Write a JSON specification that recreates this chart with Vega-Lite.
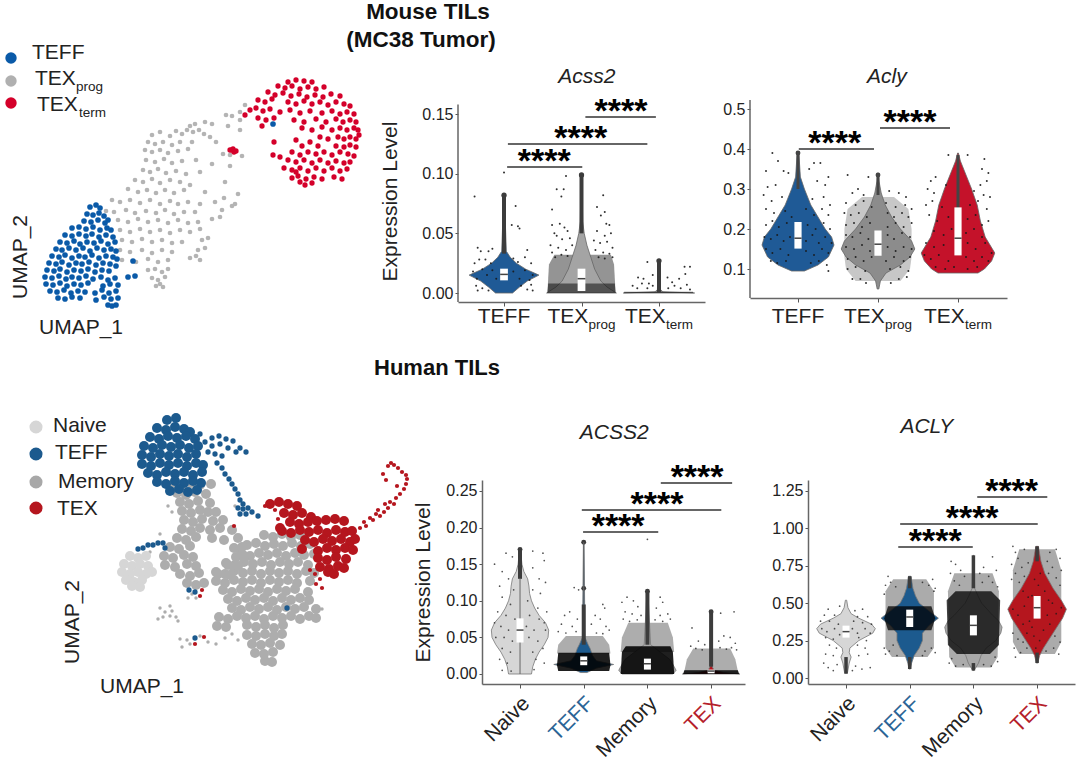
{"$schema":"https://vega.github.io/schema/vega-lite/v6.json","autosize":{"type":"none"},"padding":{"left":0,"top":100,"right":1080,"bottom":662},"background":"white","config":{"font":"Liberation Sans","view":{"stroke":null},"text":{"color":"#222"},"axis":{"grid":false,"tickColor":"#555","domainColor":"#666","domainWidth":1.5,"tickSize":3,"labelColor":"#222","labelFontSize":16,"labelPadding":2,"titleFontSize":21,"titleFontWeight":"normal","titleColor":"#222"}},"spacing":380,"bounds":"flush","resolve":{"scale":{"color":"independent"}},"vconcat":[{"spacing":45,"bounds":"flush","resolve":{"scale":{"color":"independent"}},"hconcat":[
{"width":413,"height":202,"encoding":{"x":{"field":"u","type":"quantitative","scale":{"domain":[0,413]},"axis":null},"y":{"field":"v","type":"quantitative","scale":{"domain":[0,202]},"axis":null}},"layer":[
{"data":{"values":[{"u":245,"v":197},{"u":240,"v":190},{"u":232,"v":186},{"u":226,"v":187},{"u":240,"v":182},{"u":228,"v":176},{"u":240,"v":172},{"u":212,"v":178},{"u":205,"v":180},{"u":190,"v":176},{"u":195,"v":178},{"u":199,"v":172},{"u":193,"v":170},{"u":187,"v":172},{"u":182,"v":168},{"u":176,"v":171},{"u":170,"v":166},{"u":160,"v":170},{"u":152,"v":167},{"u":204,"v":168},{"u":210,"v":165},{"u":216,"v":160},{"u":148,"v":160},{"u":155,"v":158},{"u":163,"v":160},{"u":172,"v":157},{"u":180,"v":160},{"u":192,"v":160},{"u":145,"v":152},{"u":152,"v":150},{"u":160,"v":152},{"u":168,"v":149},{"u":178,"v":151},{"u":188,"v":153},{"u":230,"v":147},{"u":242,"v":146},{"u":223,"v":148},{"u":146,"v":142},{"u":155,"v":140},{"u":164,"v":143},{"u":172,"v":139},{"u":182,"v":141},{"u":196,"v":142},{"u":212,"v":138},{"u":143,"v":132},{"u":150,"v":130},{"u":158,"v":133},{"u":166,"v":129},{"u":176,"v":131},{"u":186,"v":128},{"u":200,"v":130},{"u":230,"v":136},{"u":135,"v":122},{"u":143,"v":120},{"u":152,"v":123},{"u":160,"v":119},{"u":170,"v":122},{"u":180,"v":120},{"u":190,"v":117},{"u":225,"v":120},{"u":128,"v":113},{"u":138,"v":110},{"u":147,"v":112},{"u":156,"v":109},{"u":165,"v":112},{"u":174,"v":109},{"u":184,"v":112},{"u":205,"v":110},{"u":224,"v":104},{"u":238,"v":108},{"u":112,"v":102},{"u":120,"v":100},{"u":130,"v":102},{"u":140,"v":99},{"u":150,"v":102},{"u":160,"v":98},{"u":170,"v":101},{"u":178,"v":98},{"u":188,"v":100},{"u":200,"v":98},{"u":215,"v":100},{"u":232,"v":96},{"u":106,"v":91},{"u":114,"v":90},{"u":126,"v":92},{"u":135,"v":89},{"u":146,"v":91},{"u":156,"v":89},{"u":165,"v":92},{"u":174,"v":88},{"u":184,"v":90},{"u":195,"v":90},{"u":222,"v":92},{"u":235,"v":98},{"u":118,"v":82},{"u":128,"v":80},{"u":138,"v":83},{"u":148,"v":80},{"u":158,"v":82},{"u":168,"v":79},{"u":178,"v":82},{"u":188,"v":79},{"u":198,"v":80},{"u":212,"v":83},{"u":220,"v":85},{"u":120,"v":72},{"u":130,"v":70},{"u":140,"v":73},{"u":150,"v":70},{"u":160,"v":72},{"u":170,"v":69},{"u":180,"v":72},{"u":190,"v":70},{"u":200,"v":73},{"u":122,"v":62},{"u":132,"v":60},{"u":142,"v":63},{"u":152,"v":60},{"u":162,"v":62},{"u":172,"v":59},{"u":182,"v":60},{"u":202,"v":62},{"u":208,"v":64},{"u":120,"v":52},{"u":130,"v":50},{"u":142,"v":52},{"u":152,"v":49},{"u":162,"v":52},{"u":172,"v":50},{"u":198,"v":52},{"u":205,"v":54},{"u":122,"v":42},{"u":136,"v":40},{"u":148,"v":43},{"u":158,"v":40},{"u":168,"v":42},{"u":190,"v":44},{"u":196,"v":46},{"u":200,"v":42},{"u":148,"v":32},{"u":155,"v":33},{"u":162,"v":30},{"u":168,"v":33},{"u":152,"v":24},{"u":158,"v":22},{"u":165,"v":25},{"u":156,"v":16},{"u":160,"v":18},{"u":163,"v":15}]},"mark":{"type":"point","filled":true,"size":22,"opacity":1,"color":"#b4b4b4"},"encoding":{}},
{"data":{"values":[{"u":90,"v":95},{"u":96,"v":97},{"u":100,"v":94},{"u":87,"v":88},{"u":93,"v":87},{"u":99,"v":89},{"u":104,"v":86},{"u":84,"v":81},{"u":91,"v":80},{"u":98,"v":82},{"u":105,"v":79},{"u":108,"v":82},{"u":72,"v":74},{"u":79,"v":75},{"u":86,"v":73},{"u":93,"v":75},{"u":100,"v":72},{"u":107,"v":74},{"u":111,"v":72},{"u":65,"v":67},{"u":72,"v":66},{"u":79,"v":68},{"u":86,"v":66},{"u":92,"v":68},{"u":99,"v":65},{"u":106,"v":67},{"u":113,"v":65},{"u":60,"v":60},{"u":67,"v":59},{"u":74,"v":61},{"u":80,"v":58},{"u":87,"v":60},{"u":94,"v":59},{"u":101,"v":61},{"u":108,"v":58},{"u":115,"v":60},{"u":56,"v":53},{"u":62,"v":52},{"u":69,"v":54},{"u":76,"v":52},{"u":83,"v":54},{"u":90,"v":51},{"u":97,"v":54},{"u":104,"v":52},{"u":111,"v":53},{"u":116,"v":51},{"u":52,"v":46},{"u":59,"v":45},{"u":65,"v":47},{"u":72,"v":44},{"u":79,"v":46},{"u":85,"v":45},{"u":92,"v":47},{"u":99,"v":44},{"u":106,"v":46},{"u":113,"v":45},{"u":117,"v":43},{"u":49,"v":39},{"u":56,"v":38},{"u":62,"v":40},{"u":69,"v":37},{"u":76,"v":39},{"u":82,"v":38},{"u":89,"v":40},{"u":96,"v":37},{"u":103,"v":39},{"u":110,"v":38},{"u":116,"v":36},{"u":47,"v":32},{"u":54,"v":31},{"u":60,"v":33},{"u":67,"v":30},{"u":74,"v":32},{"u":81,"v":31},{"u":88,"v":33},{"u":95,"v":30},{"u":102,"v":32},{"u":109,"v":31},{"u":45,"v":25},{"u":52,"v":24},{"u":59,"v":26},{"u":66,"v":23},{"u":72,"v":25},{"u":79,"v":24},{"u":86,"v":26},{"u":93,"v":23},{"u":101,"v":25},{"u":108,"v":22},{"u":115,"v":24},{"u":46,"v":18},{"u":53,"v":17},{"u":60,"v":19},{"u":67,"v":16},{"u":74,"v":18},{"u":81,"v":17},{"u":88,"v":19},{"u":103,"v":16},{"u":110,"v":18},{"u":118,"v":17},{"u":50,"v":11},{"u":57,"v":10},{"u":64,"v":12},{"u":71,"v":9},{"u":78,"v":11},{"u":85,"v":10},{"u":95,"v":9},{"u":102,"v":12},{"u":109,"v":9},{"u":116,"v":11},{"u":58,"v":4},{"u":65,"v":3},{"u":72,"v":5},{"u":80,"v":4},{"u":96,"v":2},{"u":104,"v":5},{"u":111,"v":3},{"u":118,"v":4},{"u":108,"v":-3},{"u":112,"v":-4},{"u":116,"v":-3},{"u":128,"v":25},{"u":135,"v":26},{"u":133,"v":41},{"u":273,"v":178}]},"mark":{"type":"point","filled":true,"size":32,"opacity":1,"color":"#0a5aa8"},"encoding":{}},
{"data":{"values":[{"u":288,"v":220},{"u":296,"v":222},{"u":304,"v":221},{"u":312,"v":220},{"u":278,"v":216},{"u":285,"v":214},{"u":292,"v":216},{"u":300,"v":213},{"u":308,"v":215},{"u":316,"v":213},{"u":324,"v":215},{"u":268,"v":210},{"u":275,"v":207},{"u":283,"v":209},{"u":291,"v":206},{"u":299,"v":208},{"u":307,"v":205},{"u":315,"v":207},{"u":323,"v":205},{"u":331,"v":208},{"u":340,"v":206},{"u":258,"v":202},{"u":265,"v":200},{"u":272,"v":203},{"u":288,"v":200},{"u":296,"v":198},{"u":304,"v":201},{"u":312,"v":198},{"u":320,"v":200},{"u":328,"v":197},{"u":336,"v":200},{"u":344,"v":198},{"u":350,"v":196},{"u":250,"v":192},{"u":256,"v":194},{"u":263,"v":191},{"u":270,"v":193},{"u":280,"v":190},{"u":290,"v":192},{"u":300,"v":189},{"u":310,"v":191},{"u":322,"v":189},{"u":332,"v":191},{"u":340,"v":188},{"u":347,"v":190},{"u":354,"v":188},{"u":245,"v":187},{"u":258,"v":184},{"u":266,"v":182},{"u":274,"v":184},{"u":294,"v":182},{"u":304,"v":180},{"u":316,"v":183},{"u":326,"v":180},{"u":336,"v":183},{"u":343,"v":180},{"u":350,"v":182},{"u":356,"v":180},{"u":262,"v":176},{"u":302,"v":174},{"u":312,"v":172},{"u":322,"v":175},{"u":332,"v":172},{"u":340,"v":174},{"u":347,"v":172},{"u":354,"v":174},{"u":358,"v":172},{"u":320,"v":165},{"u":328,"v":163},{"u":338,"v":165},{"u":344,"v":163},{"u":350,"v":165},{"u":356,"v":163},{"u":359,"v":167},{"u":274,"v":160},{"u":296,"v":162},{"u":302,"v":156},{"u":310,"v":160},{"u":318,"v":156},{"u":336,"v":156},{"u":344,"v":155},{"u":350,"v":157},{"u":356,"v":155},{"u":292,"v":150},{"u":300,"v":147},{"u":308,"v":150},{"u":316,"v":148},{"u":324,"v":150},{"u":332,"v":147},{"u":340,"v":150},{"u":348,"v":148},{"u":354,"v":146},{"u":273,"v":147},{"u":280,"v":145},{"u":288,"v":142},{"u":296,"v":140},{"u":304,"v":142},{"u":312,"v":139},{"u":320,"v":142},{"u":328,"v":139},{"u":336,"v":141},{"u":344,"v":139},{"u":350,"v":140},{"u":284,"v":134},{"u":292,"v":132},{"u":300,"v":134},{"u":308,"v":131},{"u":316,"v":134},{"u":324,"v":131},{"u":332,"v":134},{"u":340,"v":131},{"u":347,"v":133},{"u":292,"v":124},{"u":298,"v":126},{"u":306,"v":123},{"u":314,"v":125},{"u":322,"v":123},{"u":334,"v":125},{"u":342,"v":123},{"u":296,"v":130},{"u":300,"v":120},{"u":305,"v":117},{"u":312,"v":119},{"u":232,"v":152},{"u":234,"v":150},{"u":230,"v":152},{"u":236,"v":151},{"u":233,"v":153}]},"mark":{"type":"point","filled":true,"size":28,"opacity":1,"color":"#d4002a"},"encoding":{}},
{"data":{"values":[{"u":11,"v":244,"c":"TEFF"},{"u":11,"v":221,"c":"TEXprog"},{"u":11,"v":199,"c":"TEXterm"}]},"mark":{"type":"point","filled":true,"size":130,"opacity":1},"encoding":{"color":{"field":"c","type":"nominal","scale":{"domain":["TEFF","TEXprog","TEXterm"],"range":["#0a5aa8","#b0b0b0","#d4002a"]},"legend":null}}},
{"data":{"values":[{"u":32,"v":249,"t":"TEFF"},{"u":35,"v":223,"t":"TEX"},{"u":37,"v":197,"t":"TEX"},{"u":39,"v":-26,"t":"UMAP_1"}]},"mark":{"type":"text","align":"left","baseline":"middle","fontSize":21},"encoding":{"text":{"field":"t"}}},
{"data":{"values":[{"u":76,"v":215,"t":"prog"},{"u":79,"v":189,"t":"term"}]},"mark":{"type":"text","align":"left","baseline":"middle","fontSize":13.5},"encoding":{"text":{"field":"t"}}},
{"data":{"values":[{"u":21,"v":45,"t":"UMAP_2"}]},"mark":{"type":"text","angle":270,"align":"center","baseline":"middle","fontSize":21},"encoding":{"text":{"field":"t"}}},
{"data":{"values":[{"u":428,"v":290,"t":"Mouse TILs"},{"u":421,"v":262,"t":"(MC38 Tumor)"}]},"mark":{"type":"text","align":"center","baseline":"middle","fontSize":22.5,"fontWeight":"bold","color":"#111"},"encoding":{"text":{"field":"t"}}}
]},
{"width":247,"height":202,"encoding":{"x":{"field":"x","type":"quantitative","scale":{"domain":[0.406,3.594]},"axis":{"values":[1,2,3],"labels":false,"title":" ","tickSize":4}},"y":{"field":"y","type":"quantitative","scale":{"domain":[-0.00754,0.1618]},"axis":{"values":[0,0.05,0.1,0.15],"format":".2f","domain":false,"title":"Expression Level","titlePadding":21}}},"layer":[
{"data":{"values":[{"g":"a","y":0,"x":1.56,"x2":2.44},{"g":"a","y":0.012,"x":1.57,"x2":2.43},{"g":"a","y":0.024,"x":1.58,"x2":2.42},{"g":"a","y":0.032,"x":1.65,"x2":2.38}]},"mark":{"type":"area","orient":"horizontal","color":"#000","opacity":0.42},"encoding":{"x2":{"field":"x2"},"detail":{"field":"g"}}},
{"data":{"values":[{"g":"TEFF","y":0,"x":0.89,"x2":1.11},{"g":"TEFF","y":0.005,"x":0.8,"x2":1.2},{"g":"TEFF","y":0.01,"x":0.7,"x2":1.3},{"g":"TEFF","y":0.015,"x":0.55,"x2":1.45},{"g":"TEFF","y":0.02,"x":0.72,"x2":1.28},{"g":"TEFF","y":0.025,"x":0.84,"x2":1.16},{"g":"TEFF","y":0.03,"x":0.92,"x2":1.08},{"g":"TEFF","y":0.035,"x":0.97,"x2":1.03},{"g":"TEFF","y":0.08,"x":0.995,"x2":1.005},{"g":"TEXprog","y":0,"x":1.55,"x2":2.45},{"g":"TEXprog","y":0.005,"x":1.67,"x2":2.33},{"g":"TEXprog","y":0.01,"x":1.75,"x2":2.25},{"g":"TEXprog","y":0.02,"x":1.83,"x2":2.17},{"g":"TEXprog","y":0.03,"x":1.88,"x2":2.12},{"g":"TEXprog","y":0.04,"x":1.93,"x2":2.07},{"g":"TEXprog","y":0.05,"x":1.965,"x2":2.035},{"g":"TEXprog","y":0.06,"x":1.985,"x2":2.015},{"g":"TEXprog","y":0.1,"x":1.995,"x2":2.005},{"g":"TEXterm","y":0,"x":2.54,"x2":3.46},{"g":"TEXterm","y":0.001,"x":2.95,"x2":3.05},{"g":"TEXterm","y":0.003,"x":2.98,"x2":3.02},{"g":"TEXterm","y":0.027,"x":2.988,"x2":3.012}]},"mark":{"type":"area","orient":"horizontal","stroke":"#666","strokeWidth":0.8},"encoding":{"x2":{"field":"x2"},"color":{"field":"g","type":"nominal","scale":{"domain":["TEFF","TEXprog","TEXterm"],"range":["#1f5a96","#a4a4a4","#8a8a8a"]},"legend":null}}},
{"data":{"values":[{"g":"a","y":0,"x":1.56,"x2":2.44},{"g":"a","y":0.008,"x":1.57,"x2":2.43},{"g":"b","y":0,"x":2.55,"x2":3.44},{"g":"b","y":0.001,"x":2.55,"x2":3.44}]},"mark":{"type":"area","orient":"horizontal","color":"#000","opacity":0.5},"encoding":{"x2":{"field":"x2"},"detail":{"field":"g"}}},
{"data":{"values":[{"x":0.62,"y":0.081},{"x":1.0,"y":0.101},{"x":1.15,"y":0.073},{"x":1.18,"y":0.056},{"x":1.1,"y":0.057},{"x":1.2,"y":0.054},{"x":0.66,"y":0.038},{"x":0.7,"y":0.035},{"x":0.8,"y":0.035},{"x":0.85,"y":0.037},{"x":1.3,"y":0.036},{"x":1.27,"y":0.03},{"x":0.62,"y":0.025},{"x":0.68,"y":0.028},{"x":0.76,"y":0.028},{"x":0.83,"y":0.025},{"x":1.12,"y":0.029},{"x":1.18,"y":0.026},{"x":1.35,"y":0.025},{"x":1.37,"y":0.015},{"x":0.6,"y":0.018},{"x":0.65,"y":0.012},{"x":0.72,"y":0.02},{"x":0.78,"y":0.015},{"x":0.85,"y":0.019},{"x":0.9,"y":0.012},{"x":1.12,"y":0.018},{"x":1.2,"y":0.012},{"x":1.27,"y":0.019},{"x":1.33,"y":0.011},{"x":0.64,"y":0.006},{"x":0.66,"y":0.002},{"x":0.72,"y":0.004},{"x":0.8,"y":0.002},{"x":1.22,"y":0.006},{"x":1.3,"y":0.003},{"x":1.37,"y":0.002},{"x":1.35,"y":0.007},{"x":1.65,"y":0.05},{"x":1.8,"y":0.098},{"x":1.68,"y":0.087},{"x":1.77,"y":0.087},{"x":1.74,"y":0.081},{"x":2.28,"y":0.082},{"x":1.62,"y":0.07},{"x":2.2,"y":0.072},{"x":2.25,"y":0.065},{"x":2.3,"y":0.068},{"x":2.32,"y":0.058},{"x":2.36,"y":0.057},{"x":1.62,"y":0.057},{"x":1.72,"y":0.058},{"x":1.78,"y":0.055},{"x":1.82,"y":0.052},{"x":2.2,"y":0.052},{"x":2.3,"y":0.048},{"x":2.38,"y":0.05},{"x":1.68,"y":0.048},{"x":1.75,"y":0.045},{"x":1.85,"y":0.046},{"x":2.16,"y":0.044},{"x":2.24,"y":0.042},{"x":2.33,"y":0.043},{"x":2.4,"y":0.038},{"x":1.6,"y":0.04},{"x":1.7,"y":0.038},{"x":1.8,"y":0.036},{"x":1.88,"y":0.04},{"x":2.18,"y":0.036},{"x":2.28,"y":0.034},{"x":2.36,"y":0.033},{"x":1.62,"y":0.034},{"x":1.66,"y":0.03},{"x":1.74,"y":0.032},{"x":1.82,"y":0.031},{"x":2.22,"y":0.03},{"x":2.3,"y":0.029},{"x":2.4,"y":0.03},{"x":2.85,"y":0.026},{"x":3.33,"y":0.022},{"x":3.4,"y":0.022},{"x":2.73,"y":0.013},{"x":2.8,"y":0.012},{"x":2.87,"y":0.008},{"x":2.92,"y":0.015},{"x":3.11,"y":0.013},{"x":3.17,"y":0.009},{"x":3.26,"y":0.012},{"x":3.34,"y":0.016},{"x":2.66,"y":0.006},{"x":2.72,"y":0.004},{"x":2.78,"y":0.008},{"x":2.85,"y":0.004},{"x":2.92,"y":0.006},{"x":3.12,"y":0.004},{"x":3.2,"y":0.006},{"x":3.28,"y":0.004},{"x":3.36,"y":0.007},{"x":3.4,"y":0.003}]},"mark":{"type":"point","filled":true,"size":4,"opacity":0.9,"color":"#1a1a1a"},"encoding":{}},
{"data":{"values":[{"x":1,"y":0.033,"y2":0.082},{"x":2,"y":0.05,"y2":0.099},{"x":3,"y":0,"y2":0.027}]},"mark":{"type":"rule","strokeWidth":4,"color":"#3c3c3c"},"encoding":{"y2":{"field":"y2"}}},
{"data":{"values":[{"x":1,"y":0.082},{"x":2,"y":0.099},{"x":3,"y":0.027}]},"mark":{"type":"point","filled":true,"size":28,"opacity":1,"color":"#3c3c3c"},"encoding":{}},
{"data":{"values":[{"x":0.95,"x2":1.05,"y":0.0106,"y2":0.0204},{"x":1.95,"x2":2.05,"y":0.0017,"y2":0.0204}]},"mark":{"type":"rect","color":"white"},"encoding":{"x2":{"field":"x2"},"y2":{"field":"y2"}}},
{"data":{"values":[{"x":0.95,"x2":1.05,"y":0.0156},{"x":1.95,"x2":2.05,"y":0.012}]},"mark":{"type":"rule","strokeWidth":1.5,"color":"#444"},"encoding":{"x2":{"field":"x2"}}},
{"data":{"values":[{"x":0.406,"y":-0.00754,"y2":0.158}]},"mark":{"type":"rule","strokeWidth":1.5,"color":"#666"},"encoding":{"y2":{"field":"y2"}}},
{"data":{"values":[{"x":1.04,"x2":2.01,"y":0.1056},{"x":1.05,"x2":2.85,"y":0.125},{"x":2.05,"x2":2.96,"y":0.1475}]},"mark":{"type":"rule","strokeWidth":1.5,"color":"#333"},"encoding":{"x2":{"field":"x2"}}},
{"data":{"values":[{"x":1.52,"y":0.1056,"t":"****"},{"x":1.99,"y":0.125,"t":"****"},{"x":2.51,"y":0.1475,"t":"****"}]},"mark":{"type":"text","fontSize":34,"fontWeight":"bold","dy":5,"baseline":"alphabetic","color":"#000"},"encoding":{"text":{"field":"t"}}},
{"data":{"values":[{"x":2.07,"y":0.181,"t":"Acss2"}]},"mark":{"type":"text","fontSize":21,"fontStyle":"italic"},"encoding":{"text":{"field":"t"}}},
{"data":{"values":[{"x":1,"y":-0.0201,"t":"TEFF"}]},"mark":{"type":"text","fontSize":21},"encoding":{"text":{"field":"t"}}},
{"data":{"values":[{"x":2,"y":-0.0201,"t":"TEX"},{"x":3,"y":-0.0201,"t":"TEX"}]},"mark":{"type":"text","fontSize":21,"align":"left","dx":-34},"encoding":{"text":{"field":"t"}}},
{"data":{"values":[{"x":2,"y":-0.0201,"t":"prog"},{"x":3,"y":-0.0201,"t":"term"}]},"mark":{"type":"text","fontSize":13.5,"align":"left","dx":7,"dy":8},"encoding":{"text":{"field":"t"}}}
]},
{"width":257,"height":202,"encoding":{"x":{"field":"x","type":"quantitative","scale":{"domain":[0.4,3.6125]},"axis":{"values":[1,2,3],"labels":false,"title":" ","tickSize":4,"offset":-4}},"y":{"field":"y","type":"quantitative","scale":{"domain":[0.0175,0.5225]},"axis":{"values":[0.1,0.2,0.3,0.4,0.5],"format":".1f","domain":false,"title":" "}}},"layer":[
{"data":{"values":[{"g":"a","y":0.07,"x":1.72,"x2":2.28},{"g":"a","y":0.1,"x":1.6,"x2":2.4},{"g":"a","y":0.13,"x":1.58,"x2":2.42},{"g":"a","y":0.2,"x":1.58,"x2":2.42},{"g":"a","y":0.25,"x":1.62,"x2":2.38},{"g":"a","y":0.28,"x":1.8,"x2":2.2}]},"mark":{"type":"area","orient":"horizontal","color":"#000","opacity":0.22},"encoding":{"x2":{"field":"x2"},"detail":{"field":"g"}}},
{"data":{"values":[{"g":"TEFF","y":0.095,"x":0.92,"x2":1.08},{"g":"TEFF","y":0.11,"x":0.75,"x2":1.25},{"g":"TEFF","y":0.13,"x":0.62,"x2":1.38},{"g":"TEFF","y":0.16,"x":0.55,"x2":1.45},{"g":"TEFF","y":0.18,"x":0.58,"x2":1.42},{"g":"TEFF","y":0.2,"x":0.66,"x2":1.34},{"g":"TEFF","y":0.23,"x":0.75,"x2":1.25},{"g":"TEFF","y":0.26,"x":0.84,"x2":1.16},{"g":"TEFF","y":0.3,"x":0.92,"x2":1.08},{"g":"TEFF","y":0.33,"x":0.97,"x2":1.03},{"g":"TEFF","y":0.39,"x":0.99,"x2":1.01},{"g":"TEXprog","y":0.05,"x":1.99,"x2":2.01},{"g":"TEXprog","y":0.07,"x":1.97,"x2":2.03},{"g":"TEXprog","y":0.09,"x":1.9,"x2":2.1},{"g":"TEXprog","y":0.11,"x":1.72,"x2":2.28},{"g":"TEXprog","y":0.13,"x":1.6,"x2":2.4},{"g":"TEXprog","y":0.15,"x":1.54,"x2":2.46},{"g":"TEXprog","y":0.17,"x":1.58,"x2":2.42},{"g":"TEXprog","y":0.2,"x":1.72,"x2":2.28},{"g":"TEXprog","y":0.23,"x":1.83,"x2":2.17},{"g":"TEXprog","y":0.26,"x":1.91,"x2":2.09},{"g":"TEXprog","y":0.29,"x":1.96,"x2":2.04},{"g":"TEXprog","y":0.32,"x":1.988,"x2":2.012},{"g":"TEXprog","y":0.34,"x":1.995,"x2":2.005},{"g":"TEXterm","y":0.09,"x":2.75,"x2":3.25},{"g":"TEXterm","y":0.1,"x":2.67,"x2":3.33},{"g":"TEXterm","y":0.12,"x":2.58,"x2":3.42},{"g":"TEXterm","y":0.14,"x":2.54,"x2":3.46},{"g":"TEXterm","y":0.16,"x":2.6,"x2":3.4},{"g":"TEXterm","y":0.18,"x":2.66,"x2":3.34},{"g":"TEXterm","y":0.22,"x":2.72,"x2":3.28},{"g":"TEXterm","y":0.26,"x":2.76,"x2":3.24},{"g":"TEXterm","y":0.3,"x":2.83,"x2":3.17},{"g":"TEXterm","y":0.34,"x":2.91,"x2":3.09},{"g":"TEXterm","y":0.37,"x":2.97,"x2":3.03},{"g":"TEXterm","y":0.39,"x":2.995,"x2":3.005}]},"mark":{"type":"area","orient":"horizontal","stroke":"#666","strokeWidth":0.8},"encoding":{"x2":{"field":"x2"},"color":{"field":"g","type":"nominal","scale":{"domain":["TEFF","TEXprog","TEXterm"],"range":["#1f5a96","#8c8c8c","#c4122a"]},"legend":null}}},
{"data":{"values":[{"x":0.68,"y":0.39},{"x":0.75,"y":0.37},{"x":1.2,"y":0.365},{"x":1.28,"y":0.365},{"x":0.6,"y":0.345},{"x":0.88,"y":0.34},{"x":0.82,"y":0.345},{"x":1.14,"y":0.35},{"x":1.38,"y":0.33},{"x":1.24,"y":0.32},{"x":0.62,"y":0.305},{"x":0.72,"y":0.31},{"x":1.34,"y":0.31},{"x":0.57,"y":0.285},{"x":0.67,"y":0.27},{"x":0.8,"y":0.28},{"x":1.18,"y":0.275},{"x":1.32,"y":0.28},{"x":1.4,"y":0.26},{"x":0.6,"y":0.25},{"x":0.7,"y":0.24},{"x":0.84,"y":0.245},{"x":0.92,"y":0.23},{"x":1.1,"y":0.25},{"x":1.2,"y":0.235},{"x":1.3,"y":0.25},{"x":1.38,"y":0.235},{"x":0.6,"y":0.21},{"x":0.68,"y":0.22},{"x":0.76,"y":0.205},{"x":0.86,"y":0.215},{"x":1.12,"y":0.21},{"x":1.22,"y":0.2},{"x":1.32,"y":0.215},{"x":1.4,"y":0.2},{"x":0.58,"y":0.18},{"x":0.66,"y":0.175},{"x":0.74,"y":0.185},{"x":0.82,"y":0.17},{"x":0.9,"y":0.18},{"x":1.1,"y":0.17},{"x":1.18,"y":0.185},{"x":1.26,"y":0.165},{"x":1.34,"y":0.18},{"x":1.42,"y":0.165},{"x":0.6,"y":0.15},{"x":0.68,"y":0.14},{"x":0.78,"y":0.15},{"x":0.88,"y":0.135},{"x":1.1,"y":0.145},{"x":1.2,"y":0.135},{"x":1.3,"y":0.15},{"x":1.38,"y":0.14},{"x":0.66,"y":0.12},{"x":0.74,"y":0.115},{"x":0.85,"y":0.12},{"x":1.16,"y":0.115},{"x":1.26,"y":0.12},{"x":1.36,"y":0.11},{"x":1.38,"y":0.095},{"x":1.62,"y":0.335},{"x":1.88,"y":0.33},{"x":1.75,"y":0.3},{"x":1.68,"y":0.29},{"x":1.82,"y":0.285},{"x":2.14,"y":0.295},{"x":2.26,"y":0.29},{"x":2.35,"y":0.28},{"x":1.6,"y":0.265},{"x":1.72,"y":0.26},{"x":1.82,"y":0.27},{"x":1.92,"y":0.255},{"x":2.1,"y":0.265},{"x":2.22,"y":0.255},{"x":2.34,"y":0.26},{"x":2.42,"y":0.25},{"x":1.58,"y":0.24},{"x":1.66,"y":0.235},{"x":1.76,"y":0.24},{"x":1.86,"y":0.23},{"x":2.12,"y":0.24},{"x":2.2,"y":0.23},{"x":2.3,"y":0.24},{"x":2.38,"y":0.23},{"x":1.6,"y":0.21},{"x":1.7,"y":0.215},{"x":1.8,"y":0.205},{"x":1.9,"y":0.215},{"x":2.12,"y":0.205},{"x":2.22,"y":0.215},{"x":2.32,"y":0.205},{"x":2.42,"y":0.215},{"x":1.6,"y":0.185},{"x":1.68,"y":0.18},{"x":1.78,"y":0.19},{"x":1.88,"y":0.175},{"x":2.12,"y":0.185},{"x":2.2,"y":0.175},{"x":2.3,"y":0.19},{"x":2.4,"y":0.18},{"x":1.6,"y":0.155},{"x":1.7,"y":0.15},{"x":1.8,"y":0.16},{"x":1.9,"y":0.145},{"x":2.12,"y":0.155},{"x":2.22,"y":0.145},{"x":2.32,"y":0.155},{"x":2.42,"y":0.15},{"x":1.62,"y":0.125},{"x":1.72,"y":0.13},{"x":1.82,"y":0.12},{"x":1.92,"y":0.13},{"x":2.1,"y":0.12},{"x":2.2,"y":0.13},{"x":2.32,"y":0.12},{"x":2.4,"y":0.13},{"x":1.62,"y":0.1},{"x":1.72,"y":0.105},{"x":1.84,"y":0.095},{"x":2.15,"y":0.1},{"x":2.28,"y":0.105},{"x":2.38,"y":0.095},{"x":1.68,"y":0.075},{"x":1.78,"y":0.075},{"x":1.85,"y":0.065},{"x":2.16,"y":0.065},{"x":2.26,"y":0.075},{"x":2.36,"y":0.08},{"x":3.12,"y":0.385},{"x":2.88,"y":0.385},{"x":3.33,"y":0.375},{"x":3.3,"y":0.35},{"x":3.38,"y":0.34},{"x":2.72,"y":0.33},{"x":2.66,"y":0.32},{"x":3.28,"y":0.31},{"x":3.36,"y":0.32},{"x":2.62,"y":0.3},{"x":2.7,"y":0.29},{"x":2.85,"y":0.31},{"x":3.2,"y":0.295},{"x":3.32,"y":0.285},{"x":3.4,"y":0.28},{"x":2.6,"y":0.26},{"x":2.68,"y":0.27},{"x":2.8,"y":0.255},{"x":3.15,"y":0.26},{"x":3.25,"y":0.27},{"x":3.36,"y":0.25},{"x":2.64,"y":0.235},{"x":2.74,"y":0.22},{"x":2.88,"y":0.23},{"x":3.12,"y":0.225},{"x":3.22,"y":0.235},{"x":3.3,"y":0.21},{"x":3.38,"y":0.22},{"x":2.7,"y":0.195},{"x":2.82,"y":0.185},{"x":2.92,"y":0.2},{"x":3.1,"y":0.19},{"x":3.2,"y":0.2},{"x":3.3,"y":0.18},{"x":2.6,"y":0.165},{"x":2.7,"y":0.155},{"x":2.82,"y":0.16},{"x":3.12,"y":0.165},{"x":3.22,"y":0.15},{"x":3.34,"y":0.165},{"x":3.42,"y":0.14},{"x":2.58,"y":0.135},{"x":2.66,"y":0.125},{"x":2.76,"y":0.135},{"x":2.88,"y":0.12},{"x":3.1,"y":0.13},{"x":3.2,"y":0.12},{"x":3.3,"y":0.13},{"x":3.38,"y":0.12},{"x":2.72,"y":0.105},{"x":2.84,"y":0.1},{"x":2.95,"y":0.105},{"x":3.12,"y":0.1},{"x":3.24,"y":0.105}]},"mark":{"type":"point","filled":true,"size":4,"opacity":0.9,"color":"#1a1a1a"},"encoding":{}},
{"data":{"values":[{"x":1,"y":0.3,"y2":0.39},{"x":2,"y":0.285,"y2":0.335},{"x":3,"y":0.25,"y2":0.385}]},"mark":{"type":"rule","strokeWidth":3,"color":"#444"},"encoding":{"y2":{"field":"y2"}}},
{"data":{"values":[{"x":1,"y":0.39},{"x":2,"y":0.335}]},"mark":{"type":"point","filled":true,"size":24,"opacity":1,"color":"#444"},"encoding":{}},
{"data":{"values":[{"x":0.955,"x2":1.045,"y":0.151,"y2":0.2175},{"x":1.955,"x2":2.045,"y":0.133,"y2":0.196},{"x":2.955,"x2":3.045,"y":0.134,"y2":0.254}]},"mark":{"type":"rect","color":"white"},"encoding":{"x2":{"field":"x2"},"y2":{"field":"y2"}}},
{"data":{"values":[{"x":0.955,"x2":1.045,"y":0.177},{"x":1.955,"x2":2.045,"y":0.162},{"x":2.955,"x2":3.045,"y":0.177}]},"mark":{"type":"rule","strokeWidth":1.5,"color":"#444"},"encoding":{"x2":{"field":"x2"}}},
{"data":{"values":[{"x":0.4,"y":0.0275,"y2":0.5225}]},"mark":{"type":"rule","strokeWidth":1.5,"color":"#666"},"encoding":{"y2":{"field":"y2"}}},
{"data":{"values":[{"x":1.01,"x2":1.95,"y":0.4},{"x":2.025,"x2":2.9,"y":0.4525}]},"mark":{"type":"rule","strokeWidth":1.5,"color":"#333"},"encoding":{"x2":{"field":"x2"}}},
{"data":{"values":[{"x":1.46,"y":0.4,"t":"****"},{"x":2.4,"y":0.4525,"t":"****"}]},"mark":{"type":"text","fontSize":34,"fontWeight":"bold","dy":5,"baseline":"alphabetic","color":"#000"},"encoding":{"text":{"field":"t"}}},
{"data":{"values":[{"x":2.11,"y":0.58,"t":"Acly"}]},"mark":{"type":"text","fontSize":21,"fontStyle":"italic"},"encoding":{"text":{"field":"t"}}},
{"data":{"values":[{"x":1,"y":-0.02,"t":"TEFF"}]},"mark":{"type":"text","fontSize":21},"encoding":{"text":{"field":"t"}}},
{"data":{"values":[{"x":2,"y":-0.02,"t":"TEX"},{"x":3,"y":-0.02,"t":"TEX"}]},"mark":{"type":"text","fontSize":21,"align":"left","dx":-34},"encoding":{"text":{"field":"t"}}},
{"data":{"values":[{"x":2,"y":-0.02,"t":"prog"},{"x":3,"y":-0.02,"t":"term"}]},"mark":{"type":"text","fontSize":13.5,"align":"left","dx":7,"dy":8},"encoding":{"text":{"field":"t"}}}
]}
]},{"spacing":63,"bounds":"flush","resolve":{"scale":{"color":"independent"}},"hconcat":[
{"width":419,"height":204,"encoding":{"x":{"field":"u","type":"quantitative","scale":{"domain":[0,419]},"axis":null},"y":{"field":"v","type":"quantitative","scale":{"domain":[0,204]},"axis":null}},"layer":[
{"data":{"values":[{"u":264,"v":149},{"u":273,"v":147},{"u":282,"v":150},{"u":291,"v":147},{"u":300,"v":149},{"u":247,"v":139},{"u":256,"v":141},{"u":265,"v":138},{"u":274,"v":140},{"u":283,"v":138},{"u":292,"v":141},{"u":301,"v":138},{"u":310,"v":140},{"u":241,"v":130},{"u":250,"v":128},{"u":259,"v":131},{"u":268,"v":129},{"u":277,"v":131},{"u":286,"v":128},{"u":295,"v":131},{"u":304,"v":129},{"u":314,"v":130},{"u":226,"v":121},{"u":235,"v":119},{"u":244,"v":122},{"u":253,"v":120},{"u":262,"v":122},{"u":271,"v":119},{"u":280,"v":122},{"u":289,"v":120},{"u":298,"v":122},{"u":308,"v":119},{"u":216,"v":112},{"u":225,"v":110},{"u":234,"v":113},{"u":243,"v":111},{"u":252,"v":113},{"u":261,"v":110},{"u":270,"v":113},{"u":279,"v":111},{"u":288,"v":113},{"u":297,"v":110},{"u":306,"v":113},{"u":314,"v":111},{"u":216,"v":103},{"u":225,"v":101},{"u":234,"v":104},{"u":243,"v":102},{"u":252,"v":104},{"u":261,"v":101},{"u":270,"v":104},{"u":279,"v":102},{"u":288,"v":104},{"u":297,"v":101},{"u":310,"v":103},{"u":223,"v":94},{"u":232,"v":92},{"u":241,"v":95},{"u":250,"v":93},{"u":259,"v":95},{"u":268,"v":92},{"u":277,"v":95},{"u":286,"v":93},{"u":295,"v":95},{"u":308,"v":92},{"u":228,"v":85},{"u":237,"v":83},{"u":246,"v":86},{"u":255,"v":84},{"u":264,"v":86},{"u":273,"v":83},{"u":282,"v":86},{"u":291,"v":84},{"u":300,"v":86},{"u":309,"v":84},{"u":232,"v":76},{"u":241,"v":74},{"u":250,"v":77},{"u":259,"v":75},{"u":268,"v":77},{"u":277,"v":74},{"u":286,"v":77},{"u":295,"v":75},{"u":304,"v":77},{"u":316,"v":75},{"u":219,"v":67},{"u":228,"v":65},{"u":237,"v":68},{"u":246,"v":66},{"u":255,"v":68},{"u":264,"v":65},{"u":273,"v":68},{"u":282,"v":66},{"u":291,"v":68},{"u":300,"v":65},{"u":309,"v":68},{"u":316,"v":66},{"u":217,"v":58},{"u":226,"v":57},{"u":247,"v":59},{"u":256,"v":57},{"u":265,"v":59},{"u":274,"v":56},{"u":283,"v":59},{"u":247,"v":49},{"u":256,"v":48},{"u":265,"v":50},{"u":274,"v":48},{"u":282,"v":50},{"u":252,"v":40},{"u":261,"v":39},{"u":270,"v":41},{"u":280,"v":39},{"u":255,"v":31},{"u":264,"v":30},{"u":273,"v":32},{"u":265,"v":23},{"u":272,"v":22},{"u":173,"v":200},{"u":182,"v":198},{"u":191,"v":201},{"u":200,"v":199},{"u":211,"v":200},{"u":177,"v":191},{"u":186,"v":189},{"u":195,"v":192},{"u":206,"v":190},{"u":180,"v":182},{"u":189,"v":180},{"u":198,"v":183},{"u":210,"v":181},{"u":182,"v":173},{"u":191,"v":171},{"u":200,"v":174},{"u":208,"v":172},{"u":216,"v":172},{"u":184,"v":164},{"u":193,"v":162},{"u":202,"v":165},{"u":213,"v":163},{"u":223,"v":164},{"u":182,"v":155},{"u":191,"v":153},{"u":200,"v":156},{"u":210,"v":154},{"u":220,"v":156},{"u":232,"v":154},{"u":177,"v":146},{"u":186,"v":144},{"u":196,"v":147},{"u":212,"v":146},{"u":224,"v":144},{"u":238,"v":146},{"u":170,"v":137},{"u":179,"v":135},{"u":190,"v":138},{"u":234,"v":136},{"u":242,"v":137},{"u":164,"v":128},{"u":173,"v":126},{"u":184,"v":129},{"u":193,"v":127},{"u":236,"v":127},{"u":243,"v":129},{"u":165,"v":119},{"u":175,"v":117},{"u":187,"v":120},{"u":196,"v":118},{"u":228,"v":119},{"u":238,"v":118},{"u":180,"v":110},{"u":190,"v":108},{"u":199,"v":111},{"u":218,"v":110},{"u":230,"v":109},{"u":187,"v":101},{"u":196,"v":99},{"u":204,"v":101}]},"mark":{"type":"point","filled":true,"size":100,"opacity":1,"color":"#adadad"},"encoding":{}},
{"data":{"values":[{"u":160,"v":76},{"u":165,"v":72},{"u":170,"v":78},{"u":172,"v":73},{"u":176,"v":67},{"u":170,"v":68},{"u":163,"v":67},{"u":158,"v":65},{"u":178,"v":63},{"u":180,"v":45},{"u":187,"v":44},{"u":190,"v":40},{"u":182,"v":37},{"u":200,"v":48},{"u":208,"v":42},{"u":216,"v":40},{"u":225,"v":46},{"u":232,"v":50},{"u":238,"v":44},{"u":186,"v":102},{"u":192,"v":90},{"u":196,"v":86},{"u":188,"v":86},{"u":322,"v":75},{"u":318,"v":68},{"u":235,"v":178},{"u":240,"v":170},{"u":168,"v":178},{"u":172,"v":172},{"u":160,"v":150},{"u":150,"v":132}]},"mark":{"type":"point","filled":true,"size":12,"opacity":1,"color":"#adadad"},"encoding":{}},
{"data":{"values":[{"u":130,"v":128},{"u":138,"v":126},{"u":146,"v":128},{"u":124,"v":120},{"u":132,"v":118},{"u":140,"v":120},{"u":148,"v":118},{"u":122,"v":112},{"u":130,"v":110},{"u":138,"v":112},{"u":146,"v":110},{"u":152,"v":112},{"u":126,"v":104},{"u":134,"v":102},{"u":142,"v":104},{"u":132,"v":98},{"u":140,"v":97}]},"mark":{"type":"point","filled":true,"size":100,"opacity":1,"color":"#d6d6d6"},"encoding":{}},
{"data":{"values":[{"u":167,"v":264},{"u":176,"v":266},{"u":157,"v":256},{"u":166,"v":254},{"u":175,"v":257},{"u":184,"v":255},{"u":190,"v":252},{"u":150,"v":247},{"u":159,"v":245},{"u":168,"v":248},{"u":177,"v":246},{"u":186,"v":248},{"u":195,"v":245},{"u":144,"v":238},{"u":153,"v":236},{"u":162,"v":239},{"u":171,"v":237},{"u":180,"v":239},{"u":189,"v":236},{"u":198,"v":238},{"u":142,"v":229},{"u":151,"v":227},{"u":160,"v":230},{"u":169,"v":228},{"u":178,"v":230},{"u":187,"v":227},{"u":196,"v":230},{"u":142,"v":220},{"u":151,"v":218},{"u":160,"v":221},{"u":169,"v":219},{"u":178,"v":221},{"u":187,"v":218},{"u":196,"v":221},{"u":203,"v":219},{"u":148,"v":211},{"u":157,"v":209},{"u":166,"v":212},{"u":175,"v":210},{"u":184,"v":212},{"u":193,"v":209},{"u":202,"v":212},{"u":157,"v":202},{"u":166,"v":200},{"u":175,"v":203},{"u":184,"v":201},{"u":193,"v":203},{"u":201,"v":201},{"u":170,"v":193},{"u":179,"v":195},{"u":188,"v":192},{"u":197,"v":194}]},"mark":{"type":"point","filled":true,"size":100,"opacity":1,"color":"#1c5a8e"},"encoding":{}},
{"data":{"values":[{"u":212,"v":246},{"u":219,"v":248},{"u":226,"v":245},{"u":233,"v":243},{"u":240,"v":236},{"u":246,"v":232},{"u":212,"v":238},{"u":220,"v":240},{"u":228,"v":236},{"u":236,"v":232},{"u":208,"v":232},{"u":215,"v":230},{"u":222,"v":228},{"u":200,"v":250},{"u":205,"v":242},{"u":217,"v":221},{"u":222,"v":216},{"u":225,"v":210},{"u":229,"v":205},{"u":232,"v":200},{"u":235,"v":195},{"u":238,"v":190},{"u":240,"v":184},{"u":243,"v":180},{"u":238,"v":176},{"u":243,"v":175},{"u":248,"v":176},{"u":252,"v":172},{"u":258,"v":168},{"u":240,"v":170},{"u":246,"v":170},{"u":138,"v":135},{"u":143,"v":136},{"u":148,"v":139},{"u":153,"v":139},{"u":158,"v":141},{"u":163,"v":141},{"u":165,"v":136},{"u":189,"v":94},{"u":195,"v":92},{"u":195,"v":46},{"u":287,"v":76}]},"mark":{"type":"point","filled":true,"size":28,"opacity":1,"color":"#1c5a8e"},"encoding":{}},
{"data":{"values":[{"u":270,"v":180},{"u":279,"v":182},{"u":288,"v":180},{"u":297,"v":178},{"u":284,"v":171},{"u":293,"v":169},{"u":302,"v":171},{"u":311,"v":167},{"u":290,"v":162},{"u":299,"v":160},{"u":308,"v":162},{"u":317,"v":163},{"u":326,"v":164},{"u":335,"v":165},{"u":344,"v":163},{"u":282,"v":153},{"u":291,"v":151},{"u":300,"v":154},{"u":309,"v":152},{"u":318,"v":154},{"u":327,"v":151},{"u":336,"v":154},{"u":345,"v":152},{"u":352,"v":153},{"u":280,"v":156},{"u":305,"v":144},{"u":314,"v":142},{"u":323,"v":145},{"u":332,"v":143},{"u":341,"v":145},{"u":350,"v":142},{"u":355,"v":145},{"u":302,"v":135},{"u":318,"v":133},{"u":327,"v":136},{"u":336,"v":134},{"u":345,"v":136},{"u":353,"v":134},{"u":318,"v":126},{"u":327,"v":124},{"u":336,"v":127},{"u":346,"v":125},{"u":320,"v":117},{"u":329,"v":115},{"u":338,"v":118},{"u":344,"v":116},{"u":328,"v":112},{"u":334,"v":110}]},"mark":{"type":"point","filled":true,"size":100,"opacity":1,"color":"#b5161e"},"encoding":{}},
{"data":{"values":[{"u":265,"v":178},{"u":275,"v":174},{"u":278,"v":165},{"u":360,"v":156},{"u":364,"v":162},{"u":366,"v":158},{"u":370,"v":166},{"u":373,"v":164},{"u":376,"v":170},{"u":380,"v":168},{"u":378,"v":174},{"u":384,"v":172},{"u":388,"v":176},{"u":385,"v":180},{"u":390,"v":182},{"u":394,"v":180},{"u":396,"v":186},{"u":400,"v":190},{"u":404,"v":195},{"u":406,"v":200},{"u":407,"v":205},{"u":406,"v":209},{"u":402,"v":212},{"u":398,"v":216},{"u":394,"v":219},{"u":391,"v":221},{"u":388,"v":218},{"u":383,"v":210},{"u":386,"v":204},{"u":397,"v":198},{"u":315,"v":110},{"u":310,"v":114},{"u":320,"v":105},{"u":316,"v":100},{"u":322,"v":96},{"u":200,"v":88},{"u":202,"v":94},{"u":204,"v":47},{"u":195,"v":40},{"u":234,"v":158}]},"mark":{"type":"point","filled":true,"size":18,"opacity":1,"color":"#b5161e"},"encoding":{}},
{"data":{"values":[{"u":36,"v":257,"c":"Naive"},{"u":36,"v":230,"c":"TEFF"},{"u":36,"v":202,"c":"Memory"},{"u":36,"v":176,"c":"TEX"}]},"mark":{"type":"point","filled":true,"size":170,"opacity":1},"encoding":{"color":{"field":"c","type":"nominal","scale":{"domain":["Naive","TEFF","Memory","TEX"],"range":["#d6d6d6","#1c5a8e","#a8a8a8","#b5161e"]},"legend":null}}},
{"data":{"values":[{"u":53,"v":258,"t":"Naive"},{"u":55,"v":231,"t":"TEFF"},{"u":58,"v":202,"t":"Memory"},{"u":57,"v":175,"t":"TEX"},{"u":100,"v":-3,"t":"UMAP_1"}]},"mark":{"type":"text","align":"left","baseline":"middle","fontSize":21},"encoding":{"text":{"field":"t"}}},
{"data":{"values":[{"u":73,"v":62,"t":"UMAP_2"}]},"mark":{"type":"text","angle":270,"align":"center","baseline":"middle","fontSize":21},"encoding":{"text":{"field":"t"}}},
{"data":{"values":[{"u":437,"v":316,"t":"Human TILs"}]},"mark":{"type":"text","align":"center","baseline":"middle","fontSize":22,"fontWeight":"bold","color":"#111"},"encoding":{"text":{"field":"t"}}}
]},
{"width":263,"height":204,"encoding":{"x":{"field":"x","type":"quantitative","scale":{"domain":[0.403,4.532]},"axis":{"values":[1,2,3,4],"labelExpr":"['','Naive','TEFF','Memory','TEX'][datum.value]","labelOverlap":false,"labelAngle":-45,"labelAlign":"right","labelBaseline":"middle","labelFontSize":21,"labelPadding":12,"labelOffset":6,"labelColor":{"condition":[{"test":"datum.value==2","value":"#2a6496"},{"test":"datum.value==4","value":"#b5202a"}],"value":"#222"},"title":" ","tickSize":4}},"y":{"field":"y","type":"quantitative","scale":{"domain":[-0.01366,0.265]},"axis":{"values":[0,0.05,0.1,0.15,0.2,0.25],"format":".2f","title":"Expression Level","titlePadding":12}}},"layer":[
{"data":{"values":[{"g":"a","y":0.028,"x":1.58,"x2":2.42},{"g":"a","y":0.04,"x":1.6,"x2":2.4},{"g":"a","y":0.052,"x":1.72,"x2":2.3},{"g":"b","y":0.03,"x":2.58,"x2":3.42},{"g":"b","y":0.05,"x":2.6,"x2":3.4},{"g":"b","y":0.07,"x":2.7,"x2":3.32},{"g":"c","y":0.004,"x":3.58,"x2":4.42},{"g":"c","y":0.02,"x":3.62,"x2":4.38},{"g":"c","y":0.035,"x":3.72,"x2":4.3}]},"mark":{"type":"area","orient":"horizontal","color":"#000","opacity":0.32},"encoding":{"x2":{"field":"x2"},"detail":{"field":"g"}}},
{"data":{"values":[{"g":"Naive","y":0,"x":0.82,"x2":1.18},{"g":"Naive","y":0.01,"x":0.8,"x2":1.2},{"g":"Naive","y":0.02,"x":0.76,"x2":1.24},{"g":"Naive","y":0.03,"x":0.7,"x2":1.3},{"g":"Naive","y":0.04,"x":0.62,"x2":1.38},{"g":"Naive","y":0.05,"x":0.56,"x2":1.44},{"g":"Naive","y":0.06,"x":0.55,"x2":1.45},{"g":"Naive","y":0.07,"x":0.6,"x2":1.4},{"g":"Naive","y":0.08,"x":0.7,"x2":1.3},{"g":"Naive","y":0.09,"x":0.77,"x2":1.23},{"g":"Naive","y":0.1,"x":0.82,"x2":1.18},{"g":"Naive","y":0.11,"x":0.85,"x2":1.15},{"g":"Naive","y":0.12,"x":0.86,"x2":1.14},{"g":"Naive","y":0.13,"x":0.88,"x2":1.12},{"g":"Naive","y":0.14,"x":0.94,"x2":1.06},{"g":"Naive","y":0.15,"x":0.97,"x2":1.03},{"g":"Naive","y":0.17,"x":0.992,"x2":1.008},{"g":"TEFF","y":0.002,"x":1.95,"x2":2.05},{"g":"TEFF","y":0.008,"x":1.8,"x2":2.2},{"g":"TEFF","y":0.013,"x":1.53,"x2":2.47},{"g":"TEFF","y":0.018,"x":1.8,"x2":2.2},{"g":"TEFF","y":0.025,"x":1.86,"x2":2.14},{"g":"TEFF","y":0.035,"x":1.9,"x2":2.1},{"g":"TEFF","y":0.04,"x":1.93,"x2":2.07},{"g":"TEFF","y":0.05,"x":1.98,"x2":2.02},{"g":"TEFF","y":0.18,"x":1.995,"x2":2.005},{"g":"Memory","y":0,"x":2.6,"x2":3.4},{"g":"Memory","y":0.005,"x":2.55,"x2":3.45},{"g":"Memory","y":0.01,"x":2.58,"x2":3.42},{"g":"Memory","y":0.02,"x":2.65,"x2":3.35},{"g":"Memory","y":0.03,"x":2.8,"x2":3.2},{"g":"Memory","y":0.04,"x":2.95,"x2":3.05},{"g":"Memory","y":0.115,"x":2.994,"x2":3.006},{"g":"TEX","y":0,"x":3.55,"x2":4.45},{"g":"TEX","y":0.002,"x":3.8,"x2":4.2},{"g":"TEX","y":0.005,"x":3.95,"x2":4.05},{"g":"TEX","y":0.01,"x":3.985,"x2":4.015},{"g":"TEX","y":0.085,"x":3.992,"x2":4.008}]},"mark":{"type":"area","orient":"horizontal","stroke":"#777","strokeWidth":0.8},"encoding":{"x2":{"field":"x2"},"color":{"field":"g","type":"nominal","scale":{"domain":["Naive","TEFF","Memory","TEX"],"range":["#d6d6d6","#1c5a8e","#a8a8a8","#b5161e"]},"legend":null}}},
{"data":{"values":[{"g":"a","y":0.004,"x":1.6,"x2":2.4},{"g":"a","y":0.012,"x":1.58,"x2":2.42},{"g":"a","y":0.029,"x":1.6,"x2":2.4},{"g":"b","y":0,"x":2.58,"x2":3.42},{"g":"b","y":0.03,"x":2.6,"x2":3.4},{"g":"b","y":0.038,"x":2.66,"x2":3.36},{"g":"c","y":0,"x":3.56,"x2":4.44},{"g":"c","y":0.005,"x":3.58,"x2":4.42}]},"mark":{"type":"area","orient":"horizontal","color":"#000","opacity":0.88},"encoding":{"x2":{"field":"x2"},"detail":{"field":"g"}}},
{"data":{"values":[{"x":1.2,"y":0.168},{"x":1.36,"y":0.165},{"x":0.78,"y":0.165},{"x":1.38,"y":0.155},{"x":0.6,"y":0.15},{"x":0.88,"y":0.16},{"x":1.2,"y":0.145},{"x":0.72,"y":0.14},{"x":0.82,"y":0.13},{"x":1.3,"y":0.13},{"x":1.4,"y":0.125},{"x":0.68,"y":0.12},{"x":0.9,"y":0.115},{"x":1.2,"y":0.115},{"x":1.32,"y":0.11},{"x":0.72,"y":0.105},{"x":0.85,"y":0.095},{"x":1.12,"y":0.1},{"x":1.28,"y":0.09},{"x":1.42,"y":0.085},{"x":0.65,"y":0.085},{"x":0.78,"y":0.08},{"x":0.92,"y":0.075},{"x":1.15,"y":0.08},{"x":1.3,"y":0.075},{"x":1.38,"y":0.07},{"x":0.6,"y":0.07},{"x":0.7,"y":0.065},{"x":0.82,"y":0.06},{"x":1.1,"y":0.065},{"x":1.22,"y":0.06},{"x":1.4,"y":0.06},{"x":0.62,"y":0.05},{"x":0.75,"y":0.05},{"x":0.88,"y":0.045},{"x":1.14,"y":0.05},{"x":1.28,"y":0.045},{"x":0.72,"y":0.035},{"x":0.85,"y":0.03},{"x":1.2,"y":0.03},{"x":1.36,"y":0.035},{"x":0.68,"y":0.02},{"x":0.8,"y":0.015},{"x":1.25,"y":0.02},{"x":1.38,"y":0.015},{"x":0.72,"y":0.005},{"x":0.86,"y":0.004},{"x":1.22,"y":0.006},{"x":1.85,"y":0.118},{"x":1.92,"y":0.115},{"x":2.3,"y":0.095},{"x":2.33,"y":0.09},{"x":1.78,"y":0.085},{"x":1.7,"y":0.08},{"x":1.9,"y":0.075},{"x":2.18,"y":0.08},{"x":2.26,"y":0.075},{"x":1.65,"y":0.068},{"x":1.82,"y":0.065},{"x":2.12,"y":0.068},{"x":2.35,"y":0.065},{"x":2.4,"y":0.06},{"x":1.6,"y":0.058},{"x":1.72,"y":0.056},{"x":1.88,"y":0.058},{"x":2.2,"y":0.056},{"x":2.3,"y":0.055},{"x":3.0,"y":0.184},{"x":2.68,"y":0.105},{"x":2.78,"y":0.1},{"x":3.2,"y":0.105},{"x":3.24,"y":0.098},{"x":2.6,"y":0.098},{"x":2.85,"y":0.092},{"x":3.14,"y":0.09},{"x":2.65,"y":0.085},{"x":2.76,"y":0.082},{"x":2.9,"y":0.08},{"x":3.2,"y":0.08},{"x":3.32,"y":0.082},{"x":2.62,"y":0.075},{"x":2.72,"y":0.072},{"x":2.84,"y":0.074},{"x":3.12,"y":0.074},{"x":3.24,"y":0.072},{"x":3.36,"y":0.075},{"x":4.15,"y":0.083},{"x":4.36,"y":0.085},{"x":3.7,"y":0.063},{"x":4.2,"y":0.052},{"x":4.3,"y":0.05},{"x":3.8,"y":0.045},{"x":3.9,"y":0.04},{"x":4.12,"y":0.045},{"x":4.38,"y":0.042},{"x":3.68,"y":0.038},{"x":3.76,"y":0.035},{"x":3.86,"y":0.033},{"x":4.14,"y":0.036},{"x":4.24,"y":0.034},{"x":4.32,"y":0.036},{"x":4.4,"y":0.033}]},"mark":{"type":"point","filled":true,"size":3,"opacity":0.75,"color":"#1a1a1a"},"encoding":{}},
{"data":{"values":[{"x":1,"y":0.13,"y2":0.17},{"x":2,"y":0.04,"y2":0.095},{"x":3,"y":0.04,"y2":0.113},{"x":4,"y":0.01,"y2":0.085}]},"mark":{"type":"rule","strokeWidth":4,"color":"#3c3c3c"},"encoding":{"y2":{"field":"y2"}}},
{"data":{"values":[{"x":1,"y":0.17},{"x":2,"y":0.18},{"x":2,"y":0.117},{"x":3,"y":0.113},{"x":4,"y":0.085}]},"mark":{"type":"point","filled":true,"size":24,"opacity":1,"color":"#3c3c3c"},"encoding":{}},
{"data":{"values":[{"x":1,"y":0,"y2":0.13},{"x":2,"y":0.095,"y2":0.18}]},"mark":{"type":"rule","strokeWidth":1,"color":"#666"},"encoding":{"y2":{"field":"y2"}}},
{"data":{"values":[{"x":0.945,"x2":1.055,"y":0.043,"y2":0.076},{"x":1.945,"x2":2.055,"y":0.012,"y2":0.024},{"x":2.945,"x2":3.055,"y":0.006,"y2":0.021},{"x":3.945,"x2":4.055,"y":0.001,"y2":0.006}]},"mark":{"type":"rect","color":"white"},"encoding":{"x2":{"field":"x2"},"y2":{"field":"y2"}}},
{"data":{"values":[{"x":0.945,"x2":1.055,"y":0.06},{"x":1.945,"x2":2.055,"y":0.018},{"x":2.945,"x2":3.055,"y":0.014},{"x":3.945,"x2":4.055,"y":0.004}]},"mark":{"type":"rule","strokeWidth":1.5,"color":"#444"},"encoding":{"x2":{"field":"x2"}}},
{"data":{"values":[{"x":1.99,"x2":3.17,"y":0.194},{"x":1.97,"x2":4.16,"y":0.224},{"x":3.21,"x2":4.33,"y":0.261}]},"mark":{"type":"rule","strokeWidth":1.5,"color":"#333"},"encoding":{"x2":{"field":"x2"}}},
{"data":{"values":[{"x":2.54,"y":0.194,"t":"****"},{"x":3.15,"y":0.224,"t":"****"},{"x":3.78,"y":0.261,"t":"****"}]},"mark":{"type":"text","fontSize":34,"fontWeight":"bold","dy":5,"baseline":"alphabetic","color":"#000"},"encoding":{"text":{"field":"t"}}},
{"data":{"values":[{"x":2.48,"y":0.329,"t":"ACSS2"}]},"mark":{"type":"text","fontSize":21,"fontStyle":"italic"},"encoding":{"text":{"field":"t"}}}
]},
{"width":267,"height":204,"encoding":{"x":{"field":"x","type":"quantitative","scale":{"domain":[0.403,4.595]},"axis":{"values":[1,2,3,4],"labelExpr":"['','Naive','TEFF','Memory','TEX'][datum.value]","labelOverlap":false,"labelAngle":-45,"labelAlign":"right","labelBaseline":"middle","labelFontSize":21,"labelPadding":12,"labelOffset":6,"labelColor":{"condition":[{"test":"datum.value==2","value":"#2a6496"},{"test":"datum.value==4","value":"#b5202a"}],"value":"#222"},"title":" ","tickSize":4}},"y":{"field":"y","type":"quantitative","scale":{"domain":[-0.04,1.3235]},"axis":{"values":[0,0.25,0.5,0.75,1,1.25],"format":".2f","title":" "}}},"layer":[
{"data":{"values":[{"g":"a","y":0.14,"x":1.72,"x2":2.28},{"g":"a","y":0.2,"x":1.62,"x2":2.38},{"g":"a","y":0.58,"x":1.62,"x2":2.38},{"g":"a","y":0.66,"x":1.74,"x2":2.26},{"g":"b","y":0.07,"x":2.72,"x2":3.28},{"g":"b","y":0.14,"x":2.62,"x2":3.38},{"g":"b","y":0.58,"x":2.6,"x2":3.4},{"g":"b","y":0.7,"x":2.7,"x2":3.3},{"g":"c","y":0.16,"x":3.72,"x2":4.28},{"g":"c","y":0.24,"x":3.62,"x2":4.38},{"g":"c","y":0.72,"x":3.62,"x2":4.38},{"g":"c","y":0.86,"x":3.72,"x2":4.28}]},"mark":{"type":"area","orient":"horizontal","color":"#000","opacity":0.33},"encoding":{"x2":{"field":"x2"},"detail":{"field":"g"}}},
{"data":{"values":[{"g":"Naive","y":0.03,"x":0.98,"x2":1.02},{"g":"Naive","y":0.1,"x":0.95,"x2":1.05},{"g":"Naive","y":0.14,"x":0.92,"x2":1.08},{"g":"Naive","y":0.17,"x":0.95,"x2":1.05},{"g":"Naive","y":0.2,"x":0.94,"x2":1.06},{"g":"Naive","y":0.25,"x":0.8,"x2":1.2},{"g":"Naive","y":0.3,"x":0.58,"x2":1.42},{"g":"Naive","y":0.33,"x":0.54,"x2":1.46},{"g":"Naive","y":0.36,"x":0.6,"x2":1.4},{"g":"Naive","y":0.4,"x":0.8,"x2":1.2},{"g":"Naive","y":0.43,"x":0.92,"x2":1.08},{"g":"Naive","y":0.47,"x":0.97,"x2":1.03},{"g":"Naive","y":0.52,"x":0.99,"x2":1.01},{"g":"TEFF","y":0.06,"x":1.99,"x2":2.01},{"g":"TEFF","y":0.1,"x":1.97,"x2":2.03},{"g":"TEFF","y":0.15,"x":1.93,"x2":2.07},{"g":"TEFF","y":0.2,"x":1.85,"x2":2.15},{"g":"TEFF","y":0.25,"x":1.8,"x2":2.2},{"g":"TEFF","y":0.3,"x":1.8,"x2":2.2},{"g":"TEFF","y":0.35,"x":1.7,"x2":2.3},{"g":"TEFF","y":0.4,"x":1.55,"x2":2.45},{"g":"TEFF","y":0.45,"x":1.7,"x2":2.3},{"g":"TEFF","y":0.5,"x":1.85,"x2":2.15},{"g":"TEFF","y":0.55,"x":1.91,"x2":2.09},{"g":"TEFF","y":0.6,"x":1.95,"x2":2.05},{"g":"TEFF","y":0.68,"x":1.98,"x2":2.02},{"g":"Memory","y":0.05,"x":2.99,"x2":3.01},{"g":"Memory","y":0.1,"x":2.92,"x2":3.08},{"g":"Memory","y":0.15,"x":2.88,"x2":3.12},{"g":"Memory","y":0.2,"x":2.8,"x2":3.2},{"g":"Memory","y":0.25,"x":2.65,"x2":3.35},{"g":"Memory","y":0.3,"x":2.57,"x2":3.43},{"g":"Memory","y":0.34,"x":2.55,"x2":3.45},{"g":"Memory","y":0.38,"x":2.6,"x2":3.4},{"g":"Memory","y":0.42,"x":2.7,"x2":3.3},{"g":"Memory","y":0.5,"x":2.87,"x2":3.13},{"g":"Memory","y":0.55,"x":2.93,"x2":3.07},{"g":"Memory","y":0.6,"x":2.98,"x2":3.02},{"g":"Memory","y":0.82,"x":2.994,"x2":3.006},{"g":"TEX","y":0.1,"x":3.99,"x2":4.01},{"g":"TEX","y":0.15,"x":3.96,"x2":4.04},{"g":"TEX","y":0.2,"x":3.9,"x2":4.1},{"g":"TEX","y":0.3,"x":3.75,"x2":4.25},{"g":"TEX","y":0.4,"x":3.6,"x2":4.4},{"g":"TEX","y":0.46,"x":3.54,"x2":4.46},{"g":"TEX","y":0.52,"x":3.62,"x2":4.38},{"g":"TEX","y":0.6,"x":3.75,"x2":4.25},{"g":"TEX","y":0.7,"x":3.88,"x2":4.12},{"g":"TEX","y":0.78,"x":3.94,"x2":4.06},{"g":"TEX","y":0.88,"x":3.98,"x2":4.02}]},"mark":{"type":"area","orient":"horizontal","stroke":"#777","strokeWidth":0.8},"encoding":{"x2":{"field":"x2"},"color":{"field":"g","type":"nominal","scale":{"domain":["Naive","TEFF","Memory","TEX"],"range":["#d6d6d6","#1c5a8e","#a8a8a8","#b5161e"]},"legend":null}}},
{"data":{"values":[{"g":"a","y":0.32,"x":1.66,"x2":2.34},{"g":"a","y":0.4,"x":1.6,"x2":2.4},{"g":"a","y":0.48,"x":1.66,"x2":2.34},{"g":"b","y":0.16,"x":2.74,"x2":3.26},{"g":"b","y":0.22,"x":2.6,"x2":3.4},{"g":"b","y":0.52,"x":2.58,"x2":3.42},{"g":"b","y":0.58,"x":2.72,"x2":3.28}]},"mark":{"type":"area","orient":"horizontal","color":"#000","opacity":0.75},"encoding":{"x2":{"field":"x2"},"detail":{"field":"g"}}},
{"data":{"values":[{"x":0.9,"y":0.48},{"x":1.14,"y":0.45},{"x":0.72,"y":0.46},{"x":1.26,"y":0.46},{"x":0.66,"y":0.42},{"x":0.82,"y":0.42},{"x":1.18,"y":0.41},{"x":1.34,"y":0.41},{"x":0.6,"y":0.38},{"x":0.74,"y":0.38},{"x":0.88,"y":0.36},{"x":1.12,"y":0.38},{"x":1.26,"y":0.37},{"x":1.4,"y":0.36},{"x":0.62,"y":0.33},{"x":0.7,"y":0.31},{"x":0.82,"y":0.33},{"x":0.9,"y":0.29},{"x":1.1,"y":0.33},{"x":1.18,"y":0.3},{"x":1.3,"y":0.33},{"x":1.38,"y":0.3},{"x":0.68,"y":0.27},{"x":0.8,"y":0.26},{"x":1.2,"y":0.27},{"x":1.32,"y":0.25},{"x":0.74,"y":0.22},{"x":0.85,"y":0.2},{"x":1.18,"y":0.22},{"x":1.3,"y":0.2},{"x":0.68,"y":0.16},{"x":0.8,"y":0.15},{"x":1.2,"y":0.15},{"x":1.34,"y":0.16},{"x":0.65,"y":0.1},{"x":0.72,"y":0.07},{"x":0.86,"y":0.09},{"x":1.15,"y":0.08},{"x":1.25,"y":0.06},{"x":1.38,"y":0.07},{"x":0.8,"y":0.05},{"x":1.1,"y":0.05},{"x":1.66,"y":0.68},{"x":1.7,"y":0.64},{"x":2.36,"y":0.66},{"x":1.62,"y":0.62},{"x":1.78,"y":0.61},{"x":2.2,"y":0.64},{"x":2.3,"y":0.62},{"x":2.4,"y":0.6},{"x":1.6,"y":0.56},{"x":2.38,"y":0.58},{"x":1.6,"y":0.2},{"x":1.68,"y":0.18},{"x":1.74,"y":0.22},{"x":2.24,"y":0.18},{"x":2.34,"y":0.2},{"x":2.4,"y":0.17},{"x":1.62,"y":0.16},{"x":1.8,"y":0.15},{"x":2.2,"y":0.15},{"x":2.65,"y":0.78},{"x":2.72,"y":0.76},{"x":3.3,"y":0.81},{"x":3.16,"y":0.74},{"x":2.8,"y":0.72},{"x":2.64,"y":0.7},{"x":2.86,"y":0.68},{"x":3.1,"y":0.7},{"x":3.24,"y":0.68},{"x":3.36,"y":0.72},{"x":2.7,"y":0.65},{"x":2.78,"y":0.62},{"x":3.14,"y":0.64},{"x":3.3,"y":0.64},{"x":3.38,"y":0.61},{"x":2.62,"y":0.1},{"x":2.72,"y":0.08},{"x":2.84,"y":0.09},{"x":3.16,"y":0.09},{"x":3.28,"y":0.08},{"x":3.38,"y":0.11},{"x":2.66,"y":0.13},{"x":3.34,"y":0.14},{"x":3.62,"y":0.88},{"x":3.66,"y":0.84},{"x":3.8,"y":0.86},{"x":4.2,"y":0.84},{"x":4.3,"y":0.86},{"x":3.7,"y":0.8},{"x":4.16,"y":0.78},{"x":4.36,"y":0.8},{"x":3.6,"y":0.76},{"x":3.76,"y":0.74},{"x":3.86,"y":0.77},{"x":4.24,"y":0.74},{"x":4.38,"y":0.72},{"x":3.66,"y":0.7},{"x":3.8,"y":0.68},{"x":4.18,"y":0.7},{"x":4.3,"y":0.67},{"x":3.6,"y":0.66},{"x":3.72,"y":0.64},{"x":4.36,"y":0.62},{"x":3.62,"y":0.3},{"x":3.7,"y":0.26},{"x":3.78,"y":0.24},{"x":4.28,"y":0.28},{"x":4.36,"y":0.24},{"x":3.64,"y":0.2},{"x":3.74,"y":0.17},{"x":3.84,"y":0.2},{"x":4.14,"y":0.18},{"x":4.26,"y":0.2},{"x":4.34,"y":0.16},{"x":3.66,"y":0.14},{"x":3.7,"y":0.42},{"x":3.8,"y":0.48},{"x":3.88,"y":0.38},{"x":3.92,"y":0.55},{"x":3.84,"y":0.3},{"x":3.95,"y":0.28},{"x":4.1,"y":0.32},{"x":4.16,"y":0.42},{"x":4.24,"y":0.5},{"x":4.3,"y":0.43},{"x":4.12,"y":0.58},{"x":3.96,"y":0.66},{"x":4.05,"y":0.7},{"x":3.62,"y":0.46},{"x":4.38,"y":0.47},{"x":3.78,"y":0.36},{"x":4.2,"y":0.36},{"x":4.04,"y":0.25},{"x":3.98,"y":0.2},{"x":3.86,"y":0.54},{"x":3.78,"y":0.58},{"x":4.18,"y":0.52},{"x":3.92,"y":0.34},{"x":4.02,"y":0.62}]},"mark":{"type":"point","filled":true,"size":3,"opacity":0.75,"color":"#1a1a1a"},"encoding":{}},
{"data":{"values":[{"x":1,"y":0.03,"y2":0.14},{"x":2,"y":0.06,"y2":0.14},{"x":2,"y":0.6,"y2":0.68},{"x":3,"y":0.05,"y2":0.1},{"x":3,"y":0.6,"y2":0.82},{"x":4,"y":0.1,"y2":0.17},{"x":4,"y":0.78,"y2":0.88}]},"mark":{"type":"rule","strokeWidth":3.5,"color":"#3c3c3c"},"encoding":{"y2":{"field":"y2"}}},
{"data":{"values":[{"x":0.945,"x2":1.055,"y":0.27,"y2":0.35},{"x":1.945,"x2":2.055,"y":0.341,"y2":0.457},{"x":2.945,"x2":3.055,"y":0.285,"y2":0.419},{"x":3.945,"x2":4.055,"y":0.397,"y2":0.548}]},"mark":{"type":"rect","color":"white"},"encoding":{"x2":{"field":"x2"},"y2":{"field":"y2"}}},
{"data":{"values":[{"x":0.945,"x2":1.055,"y":0.31},{"x":1.945,"x2":2.055,"y":0.408},{"x":2.945,"x2":3.055,"y":0.352},{"x":3.945,"x2":4.055,"y":0.47}]},"mark":{"type":"rule","strokeWidth":1.5,"color":"#444"},"encoding":{"x2":{"field":"x2"}}},
{"data":{"values":[{"x":1.82,"x2":2.99,"y":0.876},{"x":1.85,"x2":4.01,"y":1.03},{"x":3.06,"x2":4.16,"y":1.21}]},"mark":{"type":"rule","strokeWidth":1.5,"color":"#333"},"encoding":{"x2":{"field":"x2"}}},
{"data":{"values":[{"x":2.4,"y":0.876,"t":"****"},{"x":2.98,"y":1.03,"t":"****"},{"x":3.6,"y":1.21,"t":"****"}]},"mark":{"type":"text","fontSize":34,"fontWeight":"bold","dy":5,"baseline":"alphabetic","color":"#000"},"encoding":{"text":{"field":"t"}}},
{"data":{"values":[{"x":2.27,"y":1.678,"t":"ACLY"}]},"mark":{"type":"text","fontSize":21,"fontStyle":"italic"},"encoding":{"text":{"field":"t"}}}
]}
]}]}
